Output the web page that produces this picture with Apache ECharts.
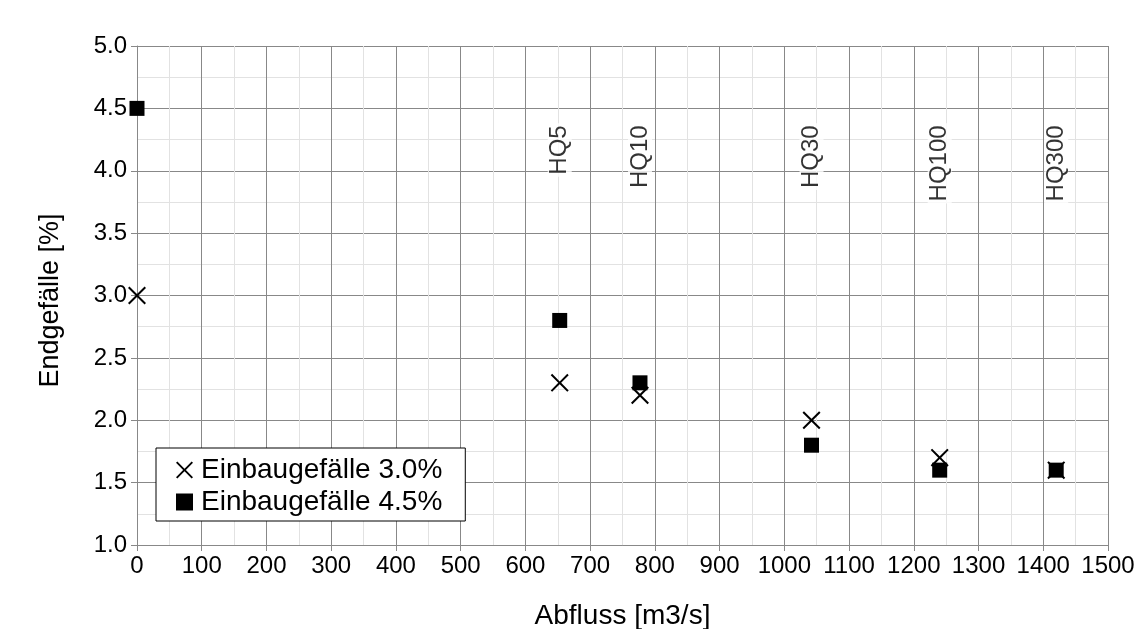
<!DOCTYPE html>
<html>
<head>
<meta charset="utf-8">
<script src="https://cdn.jsdelivr.net/npm/echarts@6/dist/echarts.min.js"></script>
<style>
html,body{margin:0;padding:0;background:#fff;}
#chart{width:1142px;height:629px;}
</style>
</head>
<body>
<div id="chart"></div>
<script>
// ---- data ----
const seriesNames = ['Einbaugefälle 3.0%', 'Einbaugefälle 4.5%'];
const flowX = [0, 653, 777, 1042, 1240, 1420];
const slope30 = [3.0, 2.3, 2.2, 2.0, 1.7, 1.6];
const slope45 = [4.5, 2.8, 2.3, 1.8, 1.6, 1.6];
const hqNames = ['HQ5', 'HQ10', 'HQ30', 'HQ100', 'HQ300'];
const hqFlow = [653, 777, 1042, 1240, 1420];
const xTicks = [0,100,200,300,400,500,600,700,800,900,1000,1100,1200,1300,1400,1500];
const yTicks = [1.0,1.5,2.0,2.5,3.0,3.5,4.0,4.5,5.0];

const labelAnchorY = 4.38;
const FONT = '"Liberation Sans", Arial, sans-serif';
const X_PATH = 'path://M0,0.8L0.8,0L5,4.2L9.2,0L10,0.8L5.8,5L10,9.2L9.2,10L5,5.8L0.8,10L0,9.2L4.2,5Z';

const chart = echarts.init(document.getElementById('chart'), null, {renderer:'canvas'});
const option = {
  animation: false,
  backgroundColor: '#fff',
  textStyle: {fontFamily: FONT},
  grid: {left: 137, right: 34, top: 46, bottom: 84, containLabel: false, outerBoundsMode: 'none'},
  legend: {
    orient: 'vertical',
    left: 156, top: 448,
    data: seriesNames,
    backgroundColor: '#fff',
    borderColor: '#000',
    borderWidth: 1,
    borderRadius: 0,
    padding: [8, 23, 5, 20],
    itemWidth: 17, itemHeight: 17,
    itemGap: 4,
    textStyle: {fontSize: 28, color: '#000', fontFamily: FONT, padding: [0,0,0,3]}
  },
  xAxis: {
    type: 'value',
    min: 0, max: 1500, interval: 100,
    name: 'Abfluss [m3/s]',
    nameLocation: 'middle',
    nameGap: 57,
    nameTextStyle: {fontSize: 28, color: '#000', fontFamily: FONT},
    axisLine: {show: true, lineStyle: {color: '#888', width: 1}},
    axisTick: {show: true, length: 6, lineStyle: {color: '#888'}},
    axisLabel: {fontSize: 24, color: '#000', margin: 9, fontFamily: FONT,
      formatter: v => xTicks.includes(v) ? String(v) : ''},
    splitLine: {show: true, lineStyle: {color: '#888', width: 1}},
    minorTick: {show: false, splitNumber: 2},
    minorSplitLine: {show: true, lineStyle: {color: '#e2e2e2', width: 1}}
  },
  yAxis: {
    type: 'value',
    min: 1.0, max: 5.0, interval: 0.5,
    name: 'Endgefälle [%]',
    nameLocation: 'middle',
    nameGap: 73,
    nameTextStyle: {fontSize: 27, color: '#000', fontFamily: FONT, padding: [0, 10, 0, 0]},
    axisLine: {show: true, lineStyle: {color: '#888', width: 1}},
    axisTick: {show: true, length: 6, lineStyle: {color: '#888'}},
    axisLabel: {fontSize: 24, color: '#000', margin: 10, fontFamily: FONT,
      formatter: v => yTicks.some(t => Math.abs(t - v) < 1e-9) ? v.toFixed(1) : ''},
    splitLine: {show: true, lineStyle: {color: '#888', width: 1}},
    minorTick: {show: false, splitNumber: 2},
    minorSplitLine: {show: true, lineStyle: {color: '#e2e2e2', width: 1}}
  },
  series: [
    {
      name: 'hq',
      type: 'scatter',
      symbolSize: 0,
      silent: true,
      z: 1,
      data: hqNames.map((n, i) => ({name: n, value: [hqFlow[i], labelAnchorY]})),
      label: {
        show: true,
        position: 'inside',
        formatter: p => p.name,
        rotate: 90,
        align: 'right',
        verticalAlign: 'middle',
        fontSize: 24,
        color: '#000',
        fontFamily: FONT,
        backgroundColor: '#fff',
        padding: [0, 2, 0, 2]
      }
    },
    {
      name: seriesNames[1],
      type: 'scatter',
      symbol: 'rect',
      symbolSize: 15,
      z: 3,
      itemStyle: {color: '#000', opacity: 1},
      data: flowX.map((x, i) => [x, slope45[i]])
    },
    {
      name: seriesNames[0],
      type: 'scatter',
      symbol: X_PATH,
      symbolSize: 18,
      z: 4,
      itemStyle: {color: '#000', opacity: 1},
      data: flowX.map((x, i) => [x, slope30[i]])
    }
  ]
};
chart.setOption(option);
</script>
</body>
</html>
